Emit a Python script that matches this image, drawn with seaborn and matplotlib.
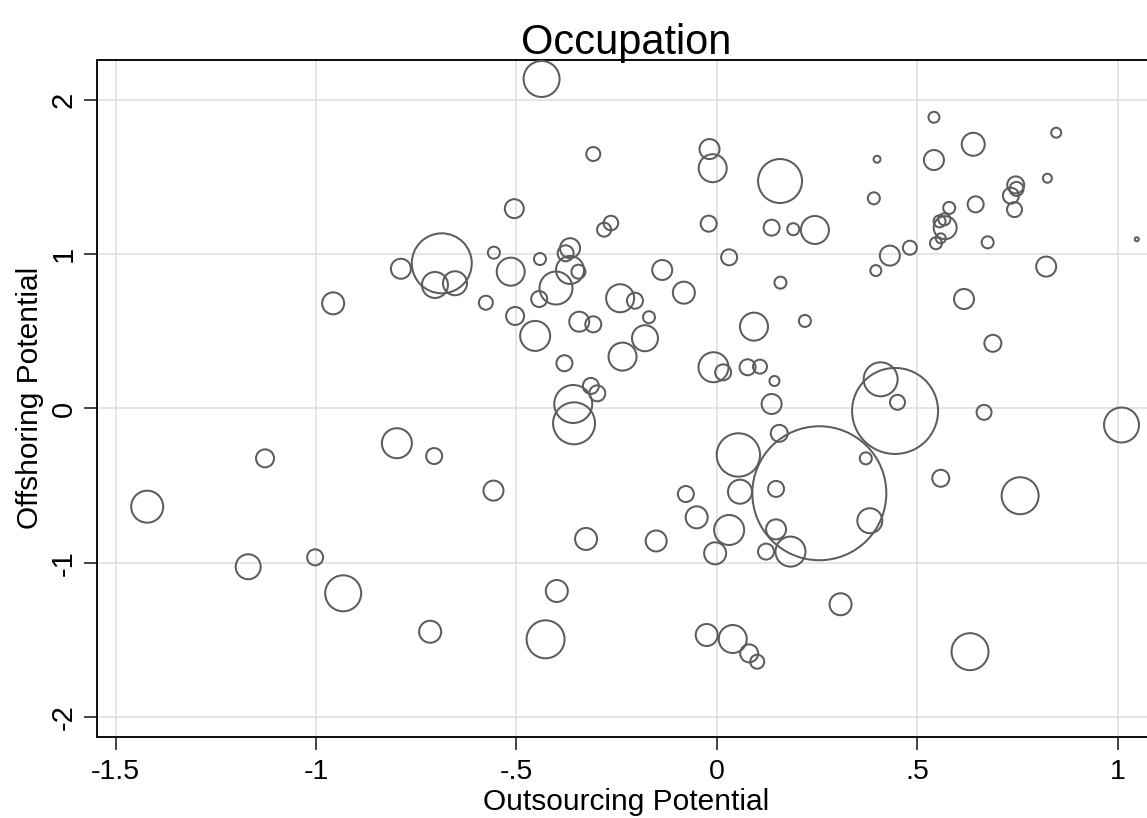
import pandas as pd
import seaborn as sns
import matplotlib.pyplot as plt

# values
outsourcing = [-0.437, -0.308, -0.018, -0.010, 0.158, -0.505, -0.264, -0.281, -0.020, 0.137,
               0.191, -0.686, -0.788, -0.556, -0.514, -0.703, -0.653, -0.441, -0.366, -0.377,
               -0.366, -0.345, -0.401, -0.136, -0.082, 0.031, 0.159, -0.241, -0.204, -0.576,
               -0.443, 0.542, 0.847, 0.640, 0.400, 0.542, 0.825, 0.746, 0.748, 0.734,
               0.743, 0.392, 0.646, 0.580, 0.556, 0.568, 0.570, 0.559, 0.547, 0.676,
               1.048, 0.245, 0.482, 0.432, 0.397, 0.822, 0.617, 0.093, 0.220, 0.689,
               0.108, 0.077, 0.144, 0.137, 0.409, 0.445, 0.451, 0.667, 1.010, 0.156,
               0.054, 0.256, 0.372, 0.148, 0.559, 0.757, 0.382, 0.148, 0.123, 0.184,
               -0.503, -0.453, -0.380, -0.343, -0.308, -0.169, -0.179, -0.235, -0.314, -0.298,
               -0.358, -0.356, -0.008, 0.016, 0.058, -0.077, -0.050, 0.031, -0.004, -0.798,
               -0.705, -0.557, -0.326, -0.151, -0.957, -1.127, -1.421, -1.169, -1.002, -0.932,
               -0.715, -0.399, -0.427, -0.025, 0.040, 0.081, 0.101, 0.309, 0.632]
offshoring = [2.134, 1.648, 1.680, 1.556, 1.473, 1.294, 1.201, 1.158, 1.197, 1.171,
              1.161, 0.940, 0.905, 1.009, 0.886, 0.800, 0.811, 0.968, 1.038, 1.005,
              0.897, 0.886, 0.780, 0.897, 0.750, 0.979, 0.815, 0.714, 0.698, 0.685,
              0.709, 1.886, 1.786, 1.711, 1.614, 1.609, 1.491, 1.448, 1.422, 1.378,
              1.288, 1.361, 1.322, 1.299, 1.212, 1.225, 1.171, 1.102, 1.070, 1.076,
              1.096, 1.156, 1.041, 0.990, 0.893, 0.919, 0.709, 0.530, 0.567, 0.422,
              0.271, 0.267, 0.178, 0.029, 0.189, -0.016, 0.040, -0.025, -0.107, -0.161,
              -0.301, -0.549, -0.323, -0.521, -0.452, -0.565, -0.727, -0.783, -0.927, -0.927,
              0.599, 0.470, 0.293, 0.562, 0.545, 0.591, 0.455, 0.336, 0.146, 0.098,
              0.029, -0.096, 0.267, 0.234, -0.539, -0.554, -0.705, -0.787, -0.938, -0.225,
              -0.308, -0.532, -0.845, -0.858, 0.681, -0.323, -0.636, -1.025, -0.964, -1.197,
              -1.446, -1.182, -1.495, -1.467, -1.493, -1.586, -1.640, -1.268, -1.575]
weight = [324, 49, 100, 196, 484, 90, 53, 49, 64, 64,
          36, 900, 100, 36, 196, 169, 144, 36, 100, 64,
          196, 49, 272, 100, 121, 64, 36, 196, 64, 49,
          64, 30, 25, 132, 12, 100, 20, 72, 49, 64,
          56, 36, 64, 36, 36, 36, 132, 25, 36, 36,
          4, 196, 49, 100, 30, 100, 100, 196, 36, 72,
          49, 64, 25, 100, 289, 1849, 56, 56, 306, 72,
          471, 4489, 36, 64, 72, 342, 156, 100, 64, 225,
          81, 225, 64, 100, 64, 36, 169, 196, 64, 64,
          361, 441, 225, 64, 144, 64, 121, 225, 121, 225,
          64, 100, 121, 110, 121, 81, 256, 156, 64, 324,
          121, 121, 361, 121, 196, 81, 49, 121, 342]

xticks = [-1.5, -1, -0.5, 0, 0.5, 1]
xtick_labels = ['-1.5', '-1', '-.5', '0', '.5', '1']
yticks = [-2, -1, 0, 1, 2]
ytick_labels = ['-2', '-1', '0', '1', '2']

df = pd.DataFrame({'outsourcing': outsourcing, 'offshoring': offshoring, 'weight': weight})

sns.set_style("white")
plt.rcParams['font.family'] = ['Liberation Sans', 'DejaVu Sans']
plt.rcParams['text.color'] = 'black'
plt.rcParams['axes.labelcolor'] = 'black'
plt.rcParams['xtick.color'] = 'black'
plt.rcParams['ytick.color'] = 'black'

fig = plt.figure(figsize=(11.47, 8.18), dpi=100)
ax = fig.add_axes([0.0843, 0.0994, 0.9227, 0.8273])

wmax = max(weight)
sns.scatterplot(data=df, x='outsourcing', y='offshoring', size='weight',
                sizes=(0, 2.073 * wmax), size_norm=(0, wmax), legend=False,
                facecolor='none', edgecolor='#5c5c5c', linewidth=1.45, ax=ax, zorder=3)

ax.set_xlim(-1.547, 1.0936)
ax.set_ylim(-2.1256, 2.2571)
ax.set_xticks(xticks)
ax.set_xticklabels(xtick_labels)
ax.set_yticks(yticks)
ax.set_yticklabels(ytick_labels, rotation=90, va='center')

ax.grid(True, color='#dedede', linewidth=1.1)
ax.set_axisbelow(True)
for side in ['left', 'bottom', 'top']:
    ax.spines[side].set_color('#111111')
    ax.spines[side].set_linewidth(1.45)
ax.spines['right'].set_visible(False)

ax.tick_params(axis='x', direction='out', length=9, width=1.1, color='#111111',
               labelsize=20.5, labelcolor='black', pad=7, bottom=True)
ax.tick_params(axis='y', direction='out', length=9.5, width=1.1, color='#111111',
               labelsize=21, labelcolor='black', pad=4, left=True)

ax.set_title('Occupation', fontsize=30, pad=4.3, color='black')
ax.set_xlabel('Outsourcing Potential', fontsize=21.5, color='black')
ax.set_ylabel('Offshoring Potential', fontsize=21.5, color='black')
ax.xaxis.set_label_coords(0.5, -0.0755)
ax.yaxis.set_label_coords(-0.0498, 0.5)

fig.savefig('out.png', dpi=100)
